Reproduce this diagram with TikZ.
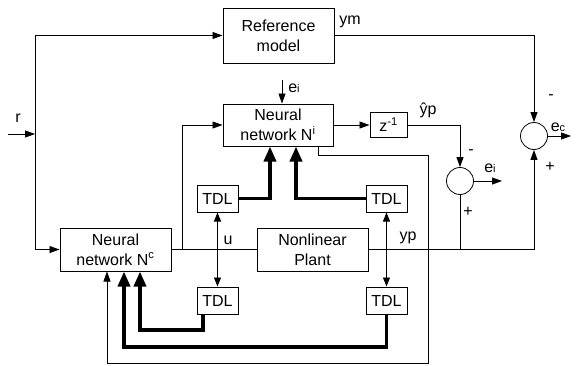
\documentclass[tikz,border=0pt]{standalone}
\usepackage{fontspec}
\setmainfont{Liberation Sans}
\usetikzlibrary{arrows.meta}
\begin{document}
\begin{tikzpicture}[x=1pt,y=-1pt,
  txt/.style={font=\fontsize{16}{20}\selectfont},
  blk/.style={draw, line width=1pt, inner sep=0pt, align=center, txt},
  sumc/.style={draw, circle, line width=0.8pt, minimum size=27pt, inner sep=0pt},
  wire/.style={line width=0.8pt},
  arr/.style={wire, -{Triangle[length=10pt,width=7pt]}},
  barr/.style={wire, {Triangle[length=9pt,width=7pt]}-{Triangle[length=9pt,width=7pt]}},
  fat/.style={line width=3.5pt, -{Triangle[length=15pt,width=12pt]}},
  lbl/.style={txt, inner sep=0pt}
]
\useasboundingbox (0,0) rectangle (582,365);
% blocks
\node[blk, minimum width=111pt, minimum height=55pt] (ref) at (278.5,35.5) {Reference\\model};
\node[blk, minimum width=110pt, minimum height=42pt] (ni) at (278,125) {Neural\\network N\textsuperscript{i}};
\node[blk, minimum width=111pt, minimum height=43pt] (nc) at (115.5,249.5) {Neural\\network N\textsuperscript{c}};
\node[blk, minimum width=111pt, minimum height=43pt] (plant) at (312.5,249.5) {Nonlinear\\Plant};
\node[blk, minimum width=37pt, minimum height=25pt] (z) at (388.5,125) {z\textsuperscript{-1}};
\node[blk, minimum width=41pt, minimum height=27pt] (t1) at (217.5,198.5) {TDL};
\node[blk, minimum width=41pt, minimum height=27pt] (t2) at (386.5,198.5) {TDL};
\node[blk, minimum width=41pt, minimum height=27pt] (t3) at (217.5,300.5) {TDL};
\node[blk, minimum width=41pt, minimum height=27pt] (t4) at (386.5,300.5) {TDL};
\node[sumc] (ei) at (460,181) {};
\node[sumc] (ec) at (534,136) {};
% coordinates
\coordinate (rin) at (8,134);
\coordinate (j1) at (35,134);
\coordinate (j2) at (182,250);
\coordinate (eitop) at (282,80);
\coordinate (eiout) at (502,181);
\coordinate (ecout) at (571,136);
\coordinate (f0) at (318,155);
\coordinate (f1) at (428,155);
\coordinate (f2) at (428,363);
\coordinate (f3) at (107,363);
\coordinate (k1) at (270,196);
\coordinate (k2) at (296,196);
\coordinate (b1) at (203,330);
\coordinate (b2) at (140,330);
\coordinate (b4) at (124,347);
\coordinate (ye) at (460,250);
% connectors
\draw[arr] (rin) -- (j1);
\draw[arr] (j1) |- (ref.west);
\draw[arr] (j1) |- (nc.west);
\draw[arr] (ref.east) -| (ec.north);
\draw[wire] (nc.east) -- (plant.west);
\draw[arr] (j2) |- (ni.west);
\draw[arr] (eitop) -- (eitop |- ni.north);
\draw[arr] (ni.east) -- (z.west);
\draw[arr] (z.east) -| (ei.north);
\draw[arr] (ei.east) -- (eiout);
\draw[arr] (plant.east) -| (ec.south);
\draw[wire] (ye) -- (ei.south);
\draw[arr] (ec.east) -- (ecout);
\draw[arr] (f0 |- ni.south) -- (f0) -- (f1) -- (f2) -- (f3) -- (f3 |- nc.south);
\draw[barr] (t1.south) -- (t3.north);
\draw[barr] (t2.south) -- (t4.north);
\draw[fat] (t1.east) -| (k1 |- ni.south);
\draw[fat] (t2.west) -| (k2 |- ni.south);
\draw[fat] (b1 |- t3.south) -- (b1) -- (b2) -- (b2 |- nc.south);
\draw[fat] (t4.south) |- (b4) -- (b4 |- nc.south);
% labels
\node[lbl] (lr) at (18,118) {r};
\node[lbl] (lym) at (350,22) {ym};
\node[lbl] (lei1) at (294,88) {e{\fontsize{11}{11}\selectfont i}};
\node[lbl] (lyp1) at (428,110) {\^{y}p};
\node[lbl] (lu) at (228,240) {u};
\node[lbl] (lyp2) at (408,238) {yp};
\node[lbl] (lei2) at (490,168) {e{\fontsize{11}{11}\selectfont i}};
\node[lbl] (lm1) at (471,152) {-};
\node[lbl] (lp1) at (468,212) {+};
\node[lbl] (lec) at (558,127) {e{\fontsize{11}{11}\selectfont c}};
\node[lbl] (lm2) at (551,97) {-};
\node[lbl] (lp2) at (550,167) {+};
\end{tikzpicture}
\end{document}
